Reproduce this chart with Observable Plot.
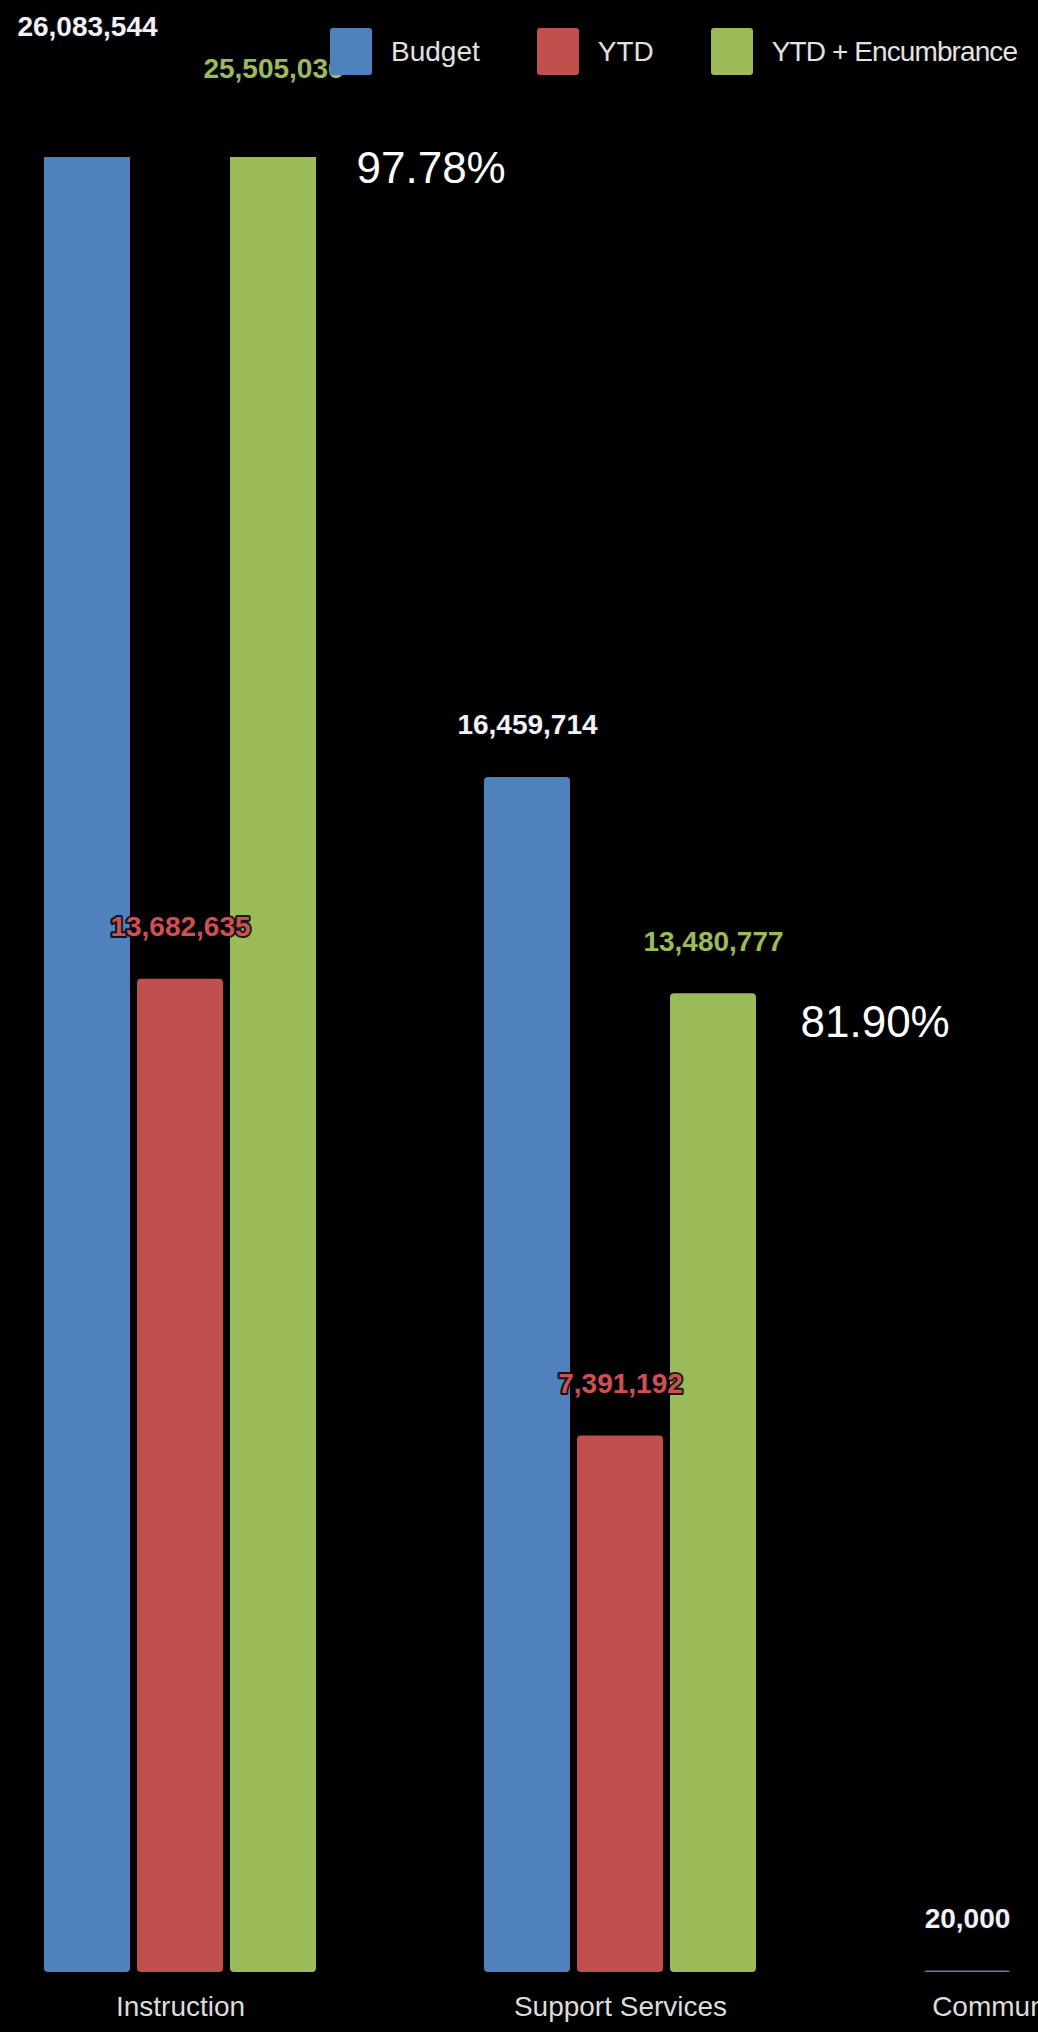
<!DOCTYPE html>
<html>
<head>
<meta charset="utf-8">
<script src="https://cdn.jsdelivr.net/npm/d3@7"></script>
<script src="https://cdn.jsdelivr.net/npm/@observablehq/plot@0.6"></script>
<style>
  html, body { margin: 0; padding: 0; background: #000; overflow: hidden; }
  #wrap { position: relative; width: 1038px; height: 2032px; }
  #legend {
    position: absolute; left: 330px; top: 28px; height: 47px;
    display: flex; align-items: center;
    font-family: "Liberation Sans", Arial, sans-serif; font-size: 28px; color: #e2e2e2;
  }
  #legend .sw { width: 42px; height: 47px; border-radius: 3px; }
  #legend .lb { margin-left: 19px; margin-right: 57px; white-space: nowrap; }
  #legend .lb:last-child { margin-right: 0; letter-spacing: -0.9px; }
</style>
</head>
<body>
<div id="wrap"><div id="chart"></div><div id="legend"></div></div>
<script>
// ---- data ----
const categories = ["Instruction", "Support Services", "Community Services"];
const series = ["Budget", "YTD", "YTD + Encumbrance"];
const budget = [26083544, 16459714, 20000];
const ytd = [13682635, 7391192, null];
const ytdEncumbrance = [25505036, 13480777, null];
const percentLabels = ["97.78%", "81.90%"];
const colors = ["#4f81bd", "#c0504d", "#9bbb59"];
const labelColors = ["#f2f2f2", "#d0504d", "#9bbb59"];
const yMax = 25000000;

// ---- build table ----
const valuesBySeries = [budget, ytd, ytdEncumbrance];
const rows = [];
categories.forEach((c, i) => {
  series.forEach((s, j) => {
    const v = valuesBySeries[j][i];
    if (v != null) rows.push({category: c, series: s, value: v});
  });
});
const pctRows = percentLabels.map((p, i) => ({
  category: categories[i], series: series[2], value: ytdEncumbrance[i], label: p
}));

const fmt = d3.format(",");

const chart = Plot.plot({
  width: 1038,
  height: 2032,
  marginTop: 157,
  marginBottom: 60,
  marginLeft: 42,
  marginRight: 0,
  style: {background: "#000", fontFamily: "Liberation Sans, Arial, sans-serif", overflow: "visible"},
  fx: {domain: categories, range: [42, 1199], paddingInner: 0.3764, paddingOuter: 0, axis: null},
  x: {domain: series, paddingInner: 0.075, paddingOuter: 0, axis: null},
  y: {domain: [0, yMax], axis: null},
  color: {domain: series, range: colors},
  marks: [
    Plot.barY(rows, {fx: "category", x: "series", y: "value", fill: "series", rx: 4, clip: true}),
    Plot.text(rows, {
      fx: "category", x: "series", y: "value", dy: -52,
      text: d => fmt(d.value),
      fill: d => labelColors[series.indexOf(d.series)],
      stroke: "#050510", strokeWidth: 4, strokeOpacity: 0.9,
      fontSize: 28, fontWeight: "bold"
    }),
    Plot.text(pctRows.filter(d => d.category === categories[0]), {
      fx: "category", x: "series", y: "value", dx: 83, dy: 48,
      text: "label", textAnchor: "start", fill: "white", fontSize: 44
    }),
    Plot.text(pctRows.filter(d => d.category === categories[1]), {
      fx: "category", x: "series", y: "value", dx: 87, dy: 29,
      text: "label", textAnchor: "start", fill: "white", fontSize: 44
    }),
    Plot.axisFx({anchor: "bottom", tickSize: 0, tickPadding: 24, label: null, fontSize: 28, fill: "#dcdcdc"})
  ]
});
document.getElementById("chart").appendChild(chart);

// ---- legend ----
const legend = document.getElementById("legend");
series.forEach((s, i) => {
  const sw = document.createElement("div");
  sw.className = "sw";
  sw.style.background = colors[i];
  const lb = document.createElement("div");
  lb.className = "lb";
  lb.textContent = s;
  legend.appendChild(sw);
  legend.appendChild(lb);
});
</script>
</body>
</html>
